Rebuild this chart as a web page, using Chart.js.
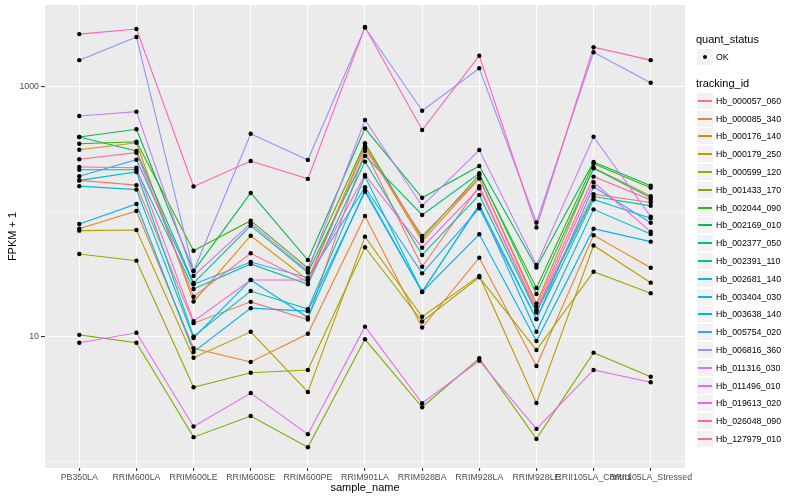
<!DOCTYPE html>
<html><head><meta charset="utf-8">
<script src="https://cdn.jsdelivr.net/npm/chart.js@4"></script>
<style>
html,body{margin:0;padding:0;background:#fff;}
#wrap{position:relative;width:800px;height:500px;overflow:hidden;}
#c{position:absolute;left:0;top:0;}
.lg{position:absolute;font-family:"Liberation Sans",Arial,Helvetica,sans-serif;color:#000;white-space:nowrap;line-height:1;}
.key{position:absolute;background:#F2F2F2;}
.ln{position:absolute;height:2px;}
</style></head><body>
<div id="wrap"><canvas id="c" width="800" height="500"></canvas><div id="legend"></div></div>
<script>
const samples = ["PB350LA","RRIM600LA","RRIM600LE","RRIM600SE","RRIM600PE","RRIM901LA","RRIM928BA","RRIM928LA","RRIM928LE","RRII105LA_Control","RRII105LA_Stressed"];
const trackingIds = ["Hb_000057_060","Hb_000085_340","Hb_000176_140","Hb_000179_250","Hb_000599_120","Hb_001433_170","Hb_002044_090","Hb_002169_010","Hb_002377_050","Hb_002391_110","Hb_002681_140","Hb_003404_030","Hb_003638_140","Hb_005754_020","Hb_006816_360","Hb_011316_030","Hb_011496_010","Hb_019613_020","Hb_026048_090","Hb_127979_010"];
const colors = ["#F8766D","#EA8331","#D89000","#C09B00","#A3A500","#7CAE00","#39B600","#00BB4E","#00BF7D","#00C1A3","#00BFC4","#00BAE0","#00B0F6","#35A2FF","#9590FF","#C77CFF","#E76BF3","#FA62DB","#FF62BC","#FF6C91"];

// FPKM + 1 per sample
const s000057_060 = [179, 164, 12.9, 19.1, 13.8, 308, 36.5, 161, 16.4, 139, 119];
const s000085_340 = [73.5, 102, 8.12, 6.31, 10.6, 92.9, 11.9, 43.1, 5.86, 65.1, 35.8];
const s000176_140 = [315, 358, 19.2, 64.6, 28.6, 339, 58.6, 186, 18.5, 226, 134];
const s000179_250 = [70.9, 71.8, 6.83, 11.0, 3.63, 63.5, 14.5, 30.8, 2.96, 54.0, 27.2];
const s000599_120 = [46.1, 40.8, 3.96, 5.18, 5.45, 52.2, 13.3, 30.0, 7.87, 33.3, 22.4];
const s001433_170 = [10.4, 9.00, 1.58, 2.33, 1.31, 9.58, 2.74, 6.75, 1.53, 7.49, 4.81];
const s002044_090 = [352, 365, 49.0, 85.2, 35.5, 355, 61.9, 198, 24.7, 243, 156];
const s002169_010 = [398, 459, 33.7, 141.9, 41.3, 467, 130, 233, 36.0, 251, 162];
const s002377_050 = [398, 308, 27.0, 77.7, 32.7, 281, 94.6, 204, 22.1, 224, 130];
const s002391_110 = [218, 218, 24.2, 38.4, 26.4, 253, 45.3, 137, 15.7, 133, 112];
const s002681_140 = [179, 209, 10.1, 23.3, 16.7, 192, 23.0, 114, 13.9, 126, 89.0];
const s003404_030 = [161, 151, 9.82, 28.6, 14.3, 150, 23.0, 114, 11.0, 105, 66.7];
const s003638_140 = [80.2, 116, 7.59, 17.0, 16.1, 145, 22.9, 66.3, 9.29, 73.5, 57.9];
const s005754_020 = [193, 262, 26.4, 39.8, 29.8, 158, 32.3, 107, 13.9, 159, 82.1];
const s006816_360 = [1640, 2512, 33.7, 423, 261, 2990, 646, 1411, 82.4, 1895, 1082];
const s011316_030 = [586, 635, 30.8, 81.2, 33.7, 544, 111.7, 313, 37.7, 400, 91.7];
const s011496_010 = [9.00, 10.8, 1.92, 3.56, 1.67, 12.1, 2.95, 6.46, 1.84, 5.45, 4.34];
const s019613_020 = [229, 226, 13.4, 28.6, 28.6, 198, 51.8, 155, 16.4, 173, 69.6];
const s026048_090 = [2650, 2910, 160, 256, 184, 3020, 453, 1780, 75.2, 2080, 1640];
const s127979_010 = [264, 298, 21.0, 46.7, 27.7, 323, 64.3, 186, 17.5, 192, 125];

const seriesValues = [s000057_060,s000085_340,s000176_140,s000179_250,s000599_120,s001433_170,s002044_090,s002169_010,s002377_050,s002391_110,s002681_140,s003404_030,s003638_140,s005754_020,s006816_360,s011316_030,s011496_010,s019613_020,s026048_090,s127979_010];

const yGridValues = [1, 10, 100, 1000];
const yMajorTicks = [10, 1000];

const FONT = "'Liberation Sans', Arial, Helvetica, sans-serif";

const datasets = seriesValues.map((vals, k) => ({
  label: trackingIds[k],
  data: vals.map((v, i) => ({x: i, y: v})),
  borderColor: colors[k],
  backgroundColor: colors[k],
  borderWidth: 1.1,
  pointRadius: 0,
  pointHoverRadius: 0,
  tension: 0,
  fill: false,
  order: 100 - k
}));
const allPoints = [];
seriesValues.forEach(vals => vals.forEach((v, i) => allPoints.push({x: i, y: v})));
datasets.push({
  label: 'OK',
  data: allPoints,
  showLine: false,
  pointRadius: 2.2,
  pointBackgroundColor: '#000',
  pointBorderColor: '#000',
  pointBorderWidth: 0,
  order: -1
});

const bgPlugin = {
  id: 'panelBg',
  beforeDraw(chart) {
    const {ctx, chartArea: a} = chart;
    ctx.save();
    ctx.fillStyle = '#EBEBEB';
    ctx.fillRect(a.left, a.top, a.right - a.left, a.bottom - a.top);
    ctx.restore();
  }
};

new Chart(document.getElementById('c'), {
  type: 'line',
  data: { datasets },
  plugins: [bgPlugin],
  options: {
    responsive: false,
    animation: false,
    devicePixelRatio: 1,
    layout: { padding: { top: 5, right: 115, left: 0, bottom: 0 } },
    plugins: { legend: { display: false }, tooltip: { enabled: false } },
    scales: {
      x: {
        type: 'linear', min: -0.6, max: 10.6,
        afterBuildTicks: s => { s.ticks = samples.map((_, i) => ({ value: i })); },
        afterFit: s => { s.height = 32; },
        grid: { color: '#FFFFFF', lineWidth: 1.1, tickColor: '#333333', tickLength: 3 },
        border: { display: false },
        ticks: {
          autoSkip: false, maxRotation: 0, minRotation: 0, padding: 1,
          color: '#4D4D4D', font: { size: 8.8, family: FONT },
          callback: v => samples[v] !== undefined ? samples[v] : ''
        },
        title: { display: true, text: 'sample_name', color: '#000', font: { size: 11, family: FONT }, padding: { top: 5, bottom: 5 } }
      },
      y: {
        type: 'logarithmic', min: 0.895, max: 4529,
        afterBuildTicks: s => { s.ticks = yGridValues.map(v => ({ value: v })); },
        afterFit: s => { s.width = 45; s.paddingTop = 0; s.paddingBottom = 0; },
        grid: {
          color: '#FFFFFF',
          lineWidth: c => (c.tick && yMajorTicks.includes(c.tick.value)) ? 1.1 : 0.55,
          tickColor: c => (c.tick && yMajorTicks.includes(c.tick.value)) ? '#333333' : 'rgba(0,0,0,0)',
          tickLength: 4
        },
        border: { display: false },
        ticks: {
          padding: 2, color: '#4D4D4D', font: { size: 8.8, family: FONT },
          callback: v => yMajorTicks.includes(v) ? String(v) : ''
        },
        title: { display: true, text: 'FPKM + 1', color: '#000', font: { size: 11, family: FONT }, padding: { top: 6, bottom: 0 } }
      }
    }
  }
});

// ggplot-style legend
const lg = document.getElementById('legend');
function add(html, style, cls) {
  const d = document.createElement('div');
  d.className = cls || 'lg';
  d.style.cssText = style;
  d.innerHTML = html;
  lg.appendChild(d);
  return d;
}
add('quant_status', 'left:696px;top:34px;font-size:11px;');
add('', 'left:697px;top:49px;width:16px;height:16px;', 'key');
add('', 'position:absolute;left:703px;top:55px;width:4px;height:4px;border-radius:50%;background:#000;', 'dot');
add('OK', 'left:716px;top:53px;font-size:8.8px;');
add('tracking_id', 'left:696px;top:78px;font-size:11px;');
trackingIds.forEach((id, k) => {
  const cy = Math.round(100.7 + k * 17.8);
  add('', `left:697px;top:${cy - 8}px;width:16px;height:16px;`, 'key');
  add('', `left:698px;top:${cy - 1}px;width:14px;background-color:${colors[k]};`, 'ln');
  add(id, `left:716px;top:${cy - 4}px;font-size:8.8px;`);
});
</script>
</body></html>
